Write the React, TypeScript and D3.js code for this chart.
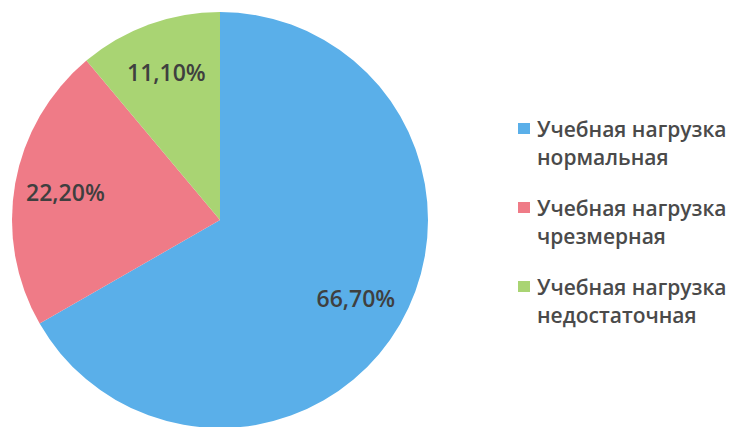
import React from "react";
import * as d3 from "d3";

const categories = [
  "Учебная нагрузка нормальная",
  "Учебная нагрузка чрезмерная",
  "Учебная нагрузка недостаточная",
];
const legendLines = [
  ["Учебная нагрузка", "нормальная"],
  ["Учебная нагрузка", "чрезмерная"],
  ["Учебная нагрузка", "недостаточная"],
];
const values = [66.7, 22.2, 11.1];
const labels = ["66,70%", "22,20%", "11,10%"];
const colors = ["#5aafe9", "#ef7b87", "#a9d473"];

export default function App() {
  const W = 738, H = 427;
  const cx = 220, cy = 220, R = 208;
  const pie = d3.pie<number>().sort(null).value((d) => d)(values);
  const arc = d3.arc<d3.PieArcDatum<number>>().innerRadius(0).outerRadius(R);
  const labelArc = d3.arc<d3.PieArcDatum<number>>().innerRadius(157).outerRadius(157);
  const font = "'Open Sans', 'Noto Sans', sans-serif";
  const legendY = d3.scaleLinear().domain([0, 2]).range([137, 295]);
  return (
    <svg width={W} height={H} style={{ position: "absolute", left: 0, top: 0, background: "#fff" }}>
      <g transform={`translate(${cx},${cy})`}>
        {pie.map((p, i) => (
          <path key={categories[i]} d={arc(p) || ""} fill={colors[i]} />
        ))}
        {pie.map((p, i) => {
          const [x, y] = labelArc.centroid(p);
          return (
            <text key={"l" + i} x={x} y={y} dy="0.36em" textAnchor="middle"
              fontFamily={font} fontSize={23} fontWeight={600} fill="#3f3f3f">
              {labels[i]}
            </text>
          );
        })}
      </g>
      {legendLines.map((lines, i) => {
        const by = legendY(i);
        return (
          <g key={"lg" + i}>
            <rect x={518} y={by - 14} width={12} height={11} fill={colors[i]} />
            <text x={537} y={by} fontFamily={font} fontSize={21} fontWeight={600} fill="#4a4a4a">
              {lines[0]}
            </text>
            <text x={537} y={by + 28} fontFamily={font} fontSize={21} fontWeight={600} fill="#4a4a4a">
              {lines[1]}
            </text>
          </g>
        );
      })}
    </svg>
  );
}
